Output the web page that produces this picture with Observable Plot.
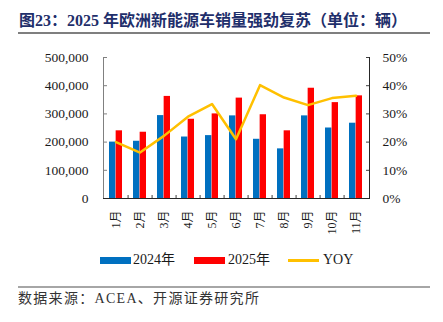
<!DOCTYPE html>
<html><head><meta charset="utf-8">
<script src="https://cdn.jsdelivr.net/npm/d3@7"></script>
<script src="https://cdn.jsdelivr.net/npm/@observablehq/plot@0.6"></script>
<style>
body{margin:0;background:#fff;width:443px;height:322px;overflow:hidden;position:relative;font-family:"Liberation Serif","Noto Sans CJK SC",serif;}
#title{position:absolute;left:19px;top:12px;font-size:16px;line-height:18px;font-weight:bold;color:#1f2f6b;white-space:nowrap;}
#rule1{position:absolute;left:18px;top:32px;width:412px;height:2px;background:#7f7f7f;}
#chart{position:absolute;left:0;top:40px;}
.sw{position:absolute;}
.lt{position:absolute;font-size:14px;line-height:16px;color:#1a1a1a;white-space:nowrap;}
#rule2{position:absolute;left:18px;top:286px;width:412px;height:2px;background:#a6a6a6;}
#source{position:absolute;left:18px;top:291px;font-size:14px;line-height:16px;color:#333;white-space:nowrap;letter-spacing:1.3px;}
</style>
</head><body>
<div id="title">图23：2025 年欧洲新能源车销量强劲复苏（单位：辆）</div>
<div id="rule1"></div>
<div id="chart"></div>
<div id="legend"></div>
<div id="rule2"></div>
<div id="source">数据来源：ACEA、开源证券研究所</div>
<script>
const months = ["1月","2月","3月","4月","5月","6月","7月","8月","9月","10月","11月"];
const sales2024 = [200000, 203000, 294000, 218000, 223000, 293000, 210000, 176000, 293000, 250000, 267000];
const sales2025 = [240000, 235000, 362000, 281000, 300000, 356000, 297000, 240000, 391000, 340000, 364000];
const yoy = [20, 16.3, 22.2, 29, 33.5, 21, 40.2, 35.8, 33.1, 35.6, 36.4];
const leftTicks = [0, 100000, 200000, 300000, 400000, 500000];
const rightTicks = [0, 10, 20, 30, 40, 50];
const seriesNames = ["2024年", "2025年", "YOY"];
const colors = ["#0070C0", "#FF0000", "#FFC000"];

const rows = months.map((m, i) => ({month: m, v2024: sales2024[i], v2025: sales2025[i], yoy: yoy[i]}));
const PCT = 10000; // 50% -> 500,000 on the shared y scale

const W = 443, H = 205, mL = 103, mR = 74, mT = 17, mB = 47;
const step = (W - mL - mR) / months.length;
const bw = step * 0.55;

const chart = Plot.plot({
  width: W, height: H,
  marginLeft: mL, marginRight: mR, marginTop: mT, marginBottom: mB,
  style: {fontFamily: '"Liberation Serif","Noto Sans CJK SC",serif', fontSize: "13px", color: "#1a1a1a", background: "transparent"},
  x: {domain: months, paddingInner: 0.45, paddingOuter: 0.225, axis: null},
  y: {domain: [0, 500000], axis: null},
  marks: [
    Plot.barY(rows, {x: "month", y: "v2024", fill: colors[0], insetRight: bw / 2}),
    Plot.barY(rows, {x: "month", y: "v2025", fill: colors[1], insetLeft: bw / 2}),
    Plot.line(rows, {x: "month", y: d => d.yoy * PCT, stroke: colors[2], strokeWidth: 2.5}),
    Plot.axisY({anchor: "left", ticks: leftTicks, tickFormat: d3.format(","), tickSize: 0, tickPadding: 15, fontSize: 13.5, label: null}),
    Plot.axisY({anchor: "left", ticks: leftTicks, tickFormat: () => "", tickSize: -4, stroke: "#808080", label: null}),
    Plot.axisY({anchor: "right", ticks: rightTicks.map(v => v * PCT), tickFormat: d => d / PCT + "%", tickSize: 0, tickPadding: 13, fontSize: 13.5, label: null}),
    Plot.axisY({anchor: "right", ticks: rightTicks.map(v => v * PCT), tickFormat: () => "", tickSize: -4, stroke: "#404040", label: null}),
    Plot.axisX({ticks: months, tickSize: 0, tickRotate: -90, tickPadding: 12, fontSize: 12, label: null}),
    Plot.axisX({ticks: months.slice(0, -1), tickFormat: () => "", tickSize: -3, dx: step / 2, stroke: "#404040", label: null}),
    Plot.frame({anchor: "left", stroke: "#808080"}),
    Plot.frame({anchor: "right", stroke: "#262626"}),
    Plot.frame({anchor: "bottom", stroke: "#262626"})
  ]
});
document.getElementById("chart").appendChild(chart);

// legend
const lg = document.getElementById("legend");
const items = [
  {x: 100, tx: 133, type: "bar"},
  {x: 194, tx: 228, type: "bar"},
  {x: 288, tx: 323, type: "line"}
];
items.forEach((it, i) => {
  const s = document.createElement("div");
  s.className = "sw";
  s.style.left = it.x + "px";
  s.style.width = "31px";
  if (it.type === "bar") { s.style.top = "257px"; s.style.height = "7px"; }
  else { s.style.top = "259px"; s.style.height = "2.5px"; }
  s.style.background = colors[i];
  lg.appendChild(s);
  const t = document.createElement("div");
  t.className = "lt";
  t.style.left = it.tx + "px";
  t.style.top = "252px";
  t.textContent = seriesNames[i];
  lg.appendChild(t);
});
</script>
</body></html>
